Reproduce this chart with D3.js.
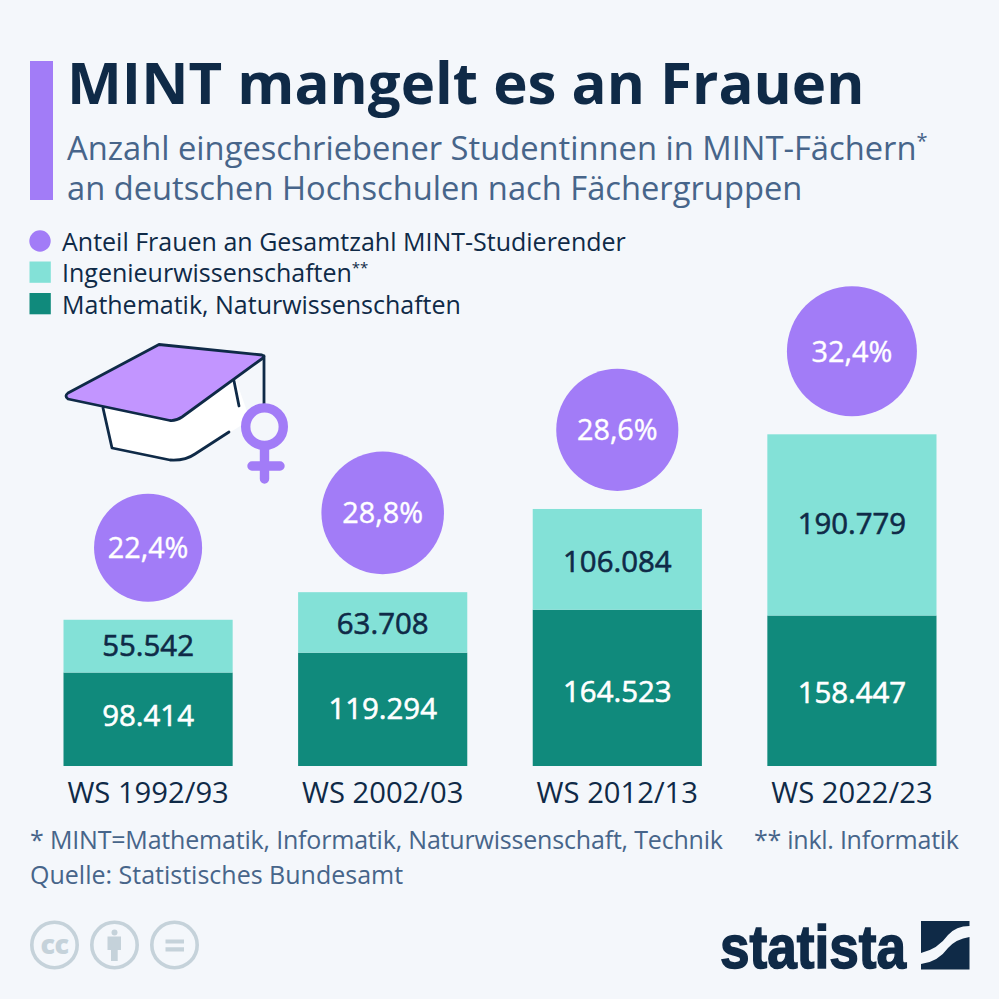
<!DOCTYPE html>
<html lang="de">
<head>
<meta charset="utf-8">
<title>MINT mangelt es an Frauen</title>
<script src="https://cdnjs.cloudflare.com/ajax/libs/d3/7.8.5/d3.min.js"></script>
<style>
  body { margin: 0; background: #f4f7fb; }
  svg { display: block; font-family: "Open Sans", sans-serif; }
</style>
</head>
<body>
<svg id="chart" width="999" height="999"></svg>
<script>
// data
var semesters = ["WS 1992/93", "WS 2002/03", "WS 2012/13", "WS 2022/23"];
var mathe = [98414, 119294, 164523, 158447];
var ingenieur = [55542, 63708, 106084, 190779];
var anteil = [22.4, 28.8, 28.6, 32.4];
var legendLabels = ["Anteil Frauen an Gesamtzahl MINT-Studierender", "Ingenieurwissenschaften", "Mathematik, Naturwissenschaften"];

var navy = "#0f2a47", slate = "#47658a", purple = "#a27cf7",
    lightTeal = "#83e1d7", darkTeal = "#108a7c", bg = "#f4f7fb";

// the labels are not exactly centred in the segments in the original
var matheNudge = [-4, -1, 4, 2], ingNudge = [-1, 1, 2, -1];

var svg = d3.select("#chart");
var de = d3.formatLocale({decimal: ",", thousands: ".", grouping: [3], currency: ["", "€"]});
var fmtNum = de.format(",d"), fmtPct = de.format(".1f");

svg.append("rect").attr("width", 999).attr("height", 999).attr("fill", bg);

// header
svg.append("rect").attr("x", 30).attr("y", 61).attr("width", 23).attr("height", 139).attr("fill", purple);
svg.append("text").attr("x", 67).attr("y", 103.5).attr("fill", navy)
  .attr("font-size", 58.2).attr("font-weight", 700).text("MINT mangelt es an Frauen");
var sub1 = svg.append("text").attr("x", 67).attr("y", 160).attr("fill", slate).attr("font-size", 32.7);
sub1.append("tspan").text("Anzahl eingeschriebener Studentinnen in MINT-Fächern");
sub1.append("tspan").attr("font-size", 20).attr("dy", -12).text("*");
svg.append("text").attr("x", 67).attr("y", 200).attr("fill", slate).attr("font-size", 32.7)
  .text("an deutschen Hochschulen nach Fächergruppen");

// legend
var legendY = [250.5, 282, 313.5];
svg.append("circle").attr("cx", 40).attr("cy", 241).attr("r", 10.7).attr("fill", purple);
svg.append("rect").attr("x", 29.5).attr("y", 261.5).attr("width", 21.3).attr("height", 21.3).attr("fill", lightTeal);
svg.append("rect").attr("x", 29.5).attr("y", 293).attr("width", 21.3).attr("height", 21.3).attr("fill", darkTeal);
legendLabels.forEach(function(d, i) {
  var t = svg.append("text").attr("x", 62).attr("y", legendY[i]).attr("fill", navy).attr("font-size", 25).text(d);
  if (i == 1) t.append("tspan").attr("font-size", 15).attr("dy", -9).text("**");
});

// scales
var x = d3.scaleBand().domain(semesters).range([63.5, 936.5]).paddingInner(0.279).paddingOuter(0);
var y = d3.scaleLinear().domain([0, 349226]).range([766, 434.3]);
var r = d3.scaleSqrt().domain([0, 32.4]).range([0, 65]);

var rows = semesters.map(function(s, i) {
  return {s: s, m: mathe[i], g: ingenieur[i], a: anteil[i], mn: matheNudge[i], gn: ingNudge[i]};
});

var groups = svg.selectAll("g.col").data(rows).enter().append("g").attr("class", "col");

groups.append("rect").attr("x", function(d) { return x(d.s); }).attr("width", x.bandwidth())
  .attr("y", function(d) { return y(d.m); }).attr("height", function(d) { return y(0) - y(d.m); })
  .attr("fill", darkTeal);
groups.append("rect").attr("x", function(d) { return x(d.s); }).attr("width", x.bandwidth())
  .attr("y", function(d) { return y(d.m + d.g); }).attr("height", function(d) { return y(d.m) - y(d.m + d.g); })
  .attr("fill", lightTeal);

function mid(d) { return x(d.s) + x.bandwidth() / 2; }

// no medium cut of the font here, a thin stroke of the same colour stands in for it
groups.append("text").attr("x", mid).attr("y", function(d) { return y(d.m / 2) + 10.5 + d.mn; })
  .attr("text-anchor", "middle").attr("font-size", 29.4).attr("fill", "#fff")
  .attr("stroke", "#fff").attr("stroke-width", 0.6)
  .text(function(d) { return fmtNum(d.m); });
groups.append("text").attr("x", mid).attr("y", function(d) { return y(d.m + d.g / 2) + 10.5 + d.gn; })
  .attr("text-anchor", "middle").attr("font-size", 29.4).attr("fill", navy)
  .attr("stroke", navy).attr("stroke-width", 0.6)
  .text(function(d) { return fmtNum(d.g); });

// share bubbles, 18px above each stack
function cy(d) { return y(d.m + d.g) - 18 - r(d.a); }
groups.append("circle").attr("cx", mid).attr("cy", cy).attr("r", function(d) { return r(d.a); }).attr("fill", purple);
groups.append("text").attr("x", mid).attr("y", function(d) { return cy(d) + 10.5; })
  .attr("text-anchor", "middle").attr("font-size", 28.8).attr("fill", "#fff")
  .attr("stroke", "#fff").attr("stroke-width", 0.4)
  .text(function(d) { return fmtPct(d.a) + "%"; });

// category axis
var axis = svg.append("g").attr("transform", "translate(0,766)")
  .call(d3.axisBottom(x).tickSize(0).tickPadding(16.5));
axis.select(".domain").remove();
axis.selectAll("text").attr("fill", navy).attr("font-size", 29.2)
  .attr("font-family", "'Open Sans', sans-serif");

// footnotes
svg.append("text").attr("x", 30).attr("y", 849).attr("fill", slate).attr("font-size", 25)
  .attr("textLength", 693).text("* MINT=Mathematik, Informatik, Naturwissenschaft, Technik");
svg.append("text").attr("x", 754).attr("y", 849).attr("fill", slate).attr("font-size", 25)
  .attr("textLength", 205).text("** inkl. Informatik");
svg.append("text").attr("x", 30).attr("y", 884).attr("fill", slate).attr("font-size", 25)
  .text("Quelle: Statistisches Bundesamt");

// graduation cap
var cap = svg.append("g").attr("fill", "none").attr("stroke", navy).attr("stroke-width", 2.8)
  .attr("stroke-linejoin", "round").attr("stroke-linecap", "round");
cap.append("path").attr("stroke", "none").attr("fill", "#fff")
  .attr("d", "M103,408 L112,448 L170,460 Q185,461 195,454 L250,420 L236,380 Z");
cap.append("path").attr("d", "M103,408 L112,448 L170,460 Q185,461 195,454 L229,432");
cap.append("path").attr("d", "M234,381 L239,406");
cap.append("path").attr("d", "M264,356 L264,405");
cap.append("path").attr("fill", "#c295ff")
  .attr("d", "M159,344.5 L262,355 Q265,356 263,358 L182,417 Q176,421 170,420.5 L68,399 Q64,396 68,393 Z");

// female sign
var sign = svg.append("g").attr("fill", "none").attr("stroke", purple).attr("stroke-linecap", "round");
sign.append("circle").attr("cx", 264.5).attr("cy", 426.7).attr("r", 18.8).attr("stroke-width", 9.4);
sign.append("path").attr("stroke-width", 9.4).attr("d", "M264.5,447 V479 M252,466 H280");

// licence icons
var iconX = [54.5, 114.5, 174.5], grey = "#c5d2da";
iconX.forEach(function(cx) {
  svg.append("circle").attr("cx", cx).attr("cy", 945).attr("r", 22.7).attr("fill", "none")
    .attr("stroke", grey).attr("stroke-width", 3.6);
});
svg.append("text").attr("x", 54.5).attr("y", 954).attr("text-anchor", "middle").attr("fill", grey)
  .attr("font-size", 27).attr("font-weight", 800).attr("letter-spacing", -0.5).text("cc");
svg.append("circle").attr("cx", 114.5).attr("cy", 932.5).attr("r", 3).attr("fill", grey);
svg.append("path").attr("fill", grey)
  .attr("d", "M107.5,936.5 H121 V950 H117.7 V961 H111 V950 H107.5 Z");
svg.append("path").attr("fill", grey).attr("d", "M165.5,939.5 H184 V943.5 H165.5 Z M165.5,947.3 H184 V951.5 H165.5 Z");

// statista logo
svg.append("text").attr("x", 720).attr("y", 968).attr("fill", navy).attr("stroke", navy).attr("stroke-width", 1.6)
  .attr("font-family", "'Liberation Sans Narrow', 'Liberation Sans', sans-serif")
  .attr("font-weight", 700).attr("font-size", 62)
  .attr("textLength", 186).attr("lengthAdjust", "spacingAndGlyphs").text("statista");
svg.append("path").attr("fill", navy)
  .attr("d", "M921,921 H969.5 V926 Q956,926 948,935 Q938,949 921,953 Z");
svg.append("path").attr("fill", navy)
  .attr("d", "M969.5,937 V969.5 H921 V964 Q938,962 948,948 Q956,939 969.5,937 Z");
</script>
</body>
</html>
